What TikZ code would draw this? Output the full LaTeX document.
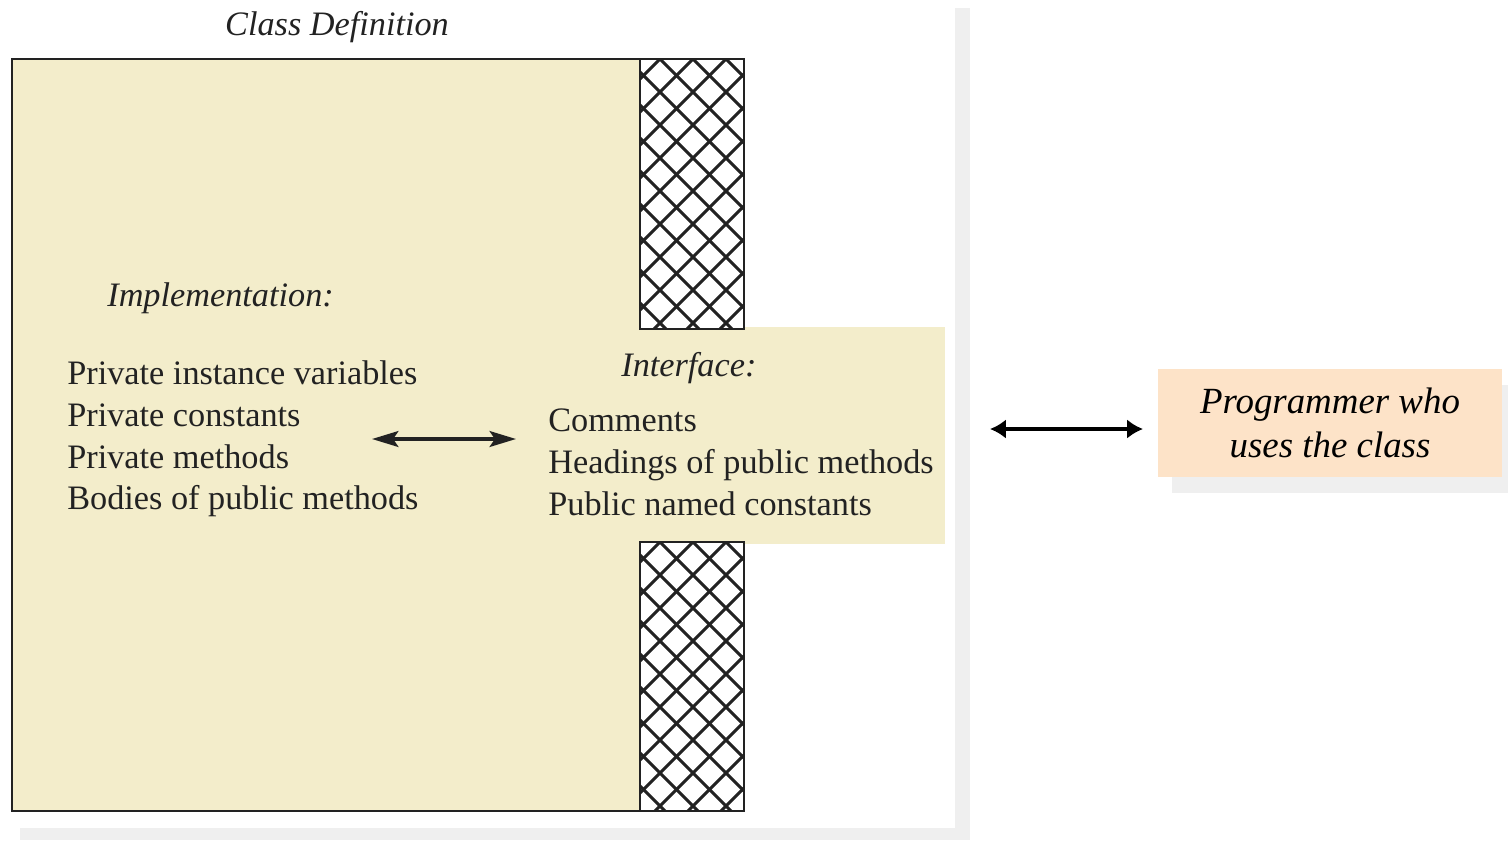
\documentclass[tikz,border=0pt]{standalone}
\usepackage{fontspec}
\setmainfont{Liberation Serif}
\usepackage{tikz}
\usetikzlibrary{arrows.meta,positioning}
\definecolor{classfill}{HTML}{F3EDCB}
\definecolor{userfill}{HTML}{FDE3C8}
\definecolor{pageshade}{HTML}{EFEFEF}
\definecolor{inkgray}{HTML}{222222}

\begin{document}
\begin{tikzpicture}[x=0.02cm, y=-0.02cm, >=Latex,
  label/.style={font=\fontsize{19.5}{23.8}\selectfont\itshape, inner sep=0pt, text=inkgray},
  items/.style={font=\fontsize{19.5}{23.8}\selectfont, align=left, inner sep=0pt, anchor=west, text=inkgray},
  userbox/.style={fill=userfill, minimum width=6.88cm, minimum height=2.16cm, align=center, inner sep=0pt, font=\fontsize{21}{25}\selectfont\itshape},
  edge/.style={draw=inkgray, line width=1.2pt},
  hatch/.style={draw=inkgray, line width=1.7pt}]
\useasboundingbox (0,0) rectangle (1508,840);
% Page and its shadow
\fill[pageshade] (20,8) rectangle (970,840);
\fill[white] (0,0) rectangle (955,828);

% Class body
\fill[classfill] (12,59) rectangle (640,811);
\fill[classfill] (640,327) rectangle (945,544);
\draw[edge] (640,59) -- (12,59) -- (12,811) -- (640,811);

% Hatched walls
\foreach \ya/\yb in {59/329, 542/811} {
  \begin{scope}
    \clip (640,\ya) rectangle (744,\yb);
    \fill[white] (640,\ya) rectangle (744,\yb);
    \foreach \k in {-12,...,12}
      \draw[hatch] ({693+33*\k},\ya) -- ++(300,300) ({693+33*\k},\ya) -- ++(-300,300);
  \end{scope}
  \draw[edge] (640,\ya) rectangle (744,\yb);
}

% Labels
\node[label] (title) at (337,27) {Class Definition};
\node[label, anchor=west] (impl) at (107,298) {Implementation:};
\node[items] (private) at (67,439) {Private instance variables\\Private constants\\Private methods\\Bodies of public methods};
\node[label, anchor=west] (iface) at (621,368) {Interface:};
\node[items] (public) at (548,462) {Comments\\Headings of public methods\\Public named constants};

% Inner link
\coordinate (inA) at (372,439);
\coordinate (inB) at (516,439);
\draw[draw=inkgray, line width=2pt, {Stealth[length=15pt,width=9pt,inset=3pt]}-{Stealth[length=15pt,width=9pt,inset=3pt]}] (inA) -- (inB);

% Programmer
\fill[pageshade] (1172,385) rectangle (1508,493);
\node[userbox] (user) at (1330,423) {Programmer who\\uses the class};
\coordinate (outA) at (990,429);
\coordinate (outB) at (1143,429);
\draw[line width=2.6pt, {Latex[length=9pt,width=11pt]}-{Latex[length=9pt,width=11pt]}] (outA) -- (outB);
\end{tikzpicture}
\end{document}
